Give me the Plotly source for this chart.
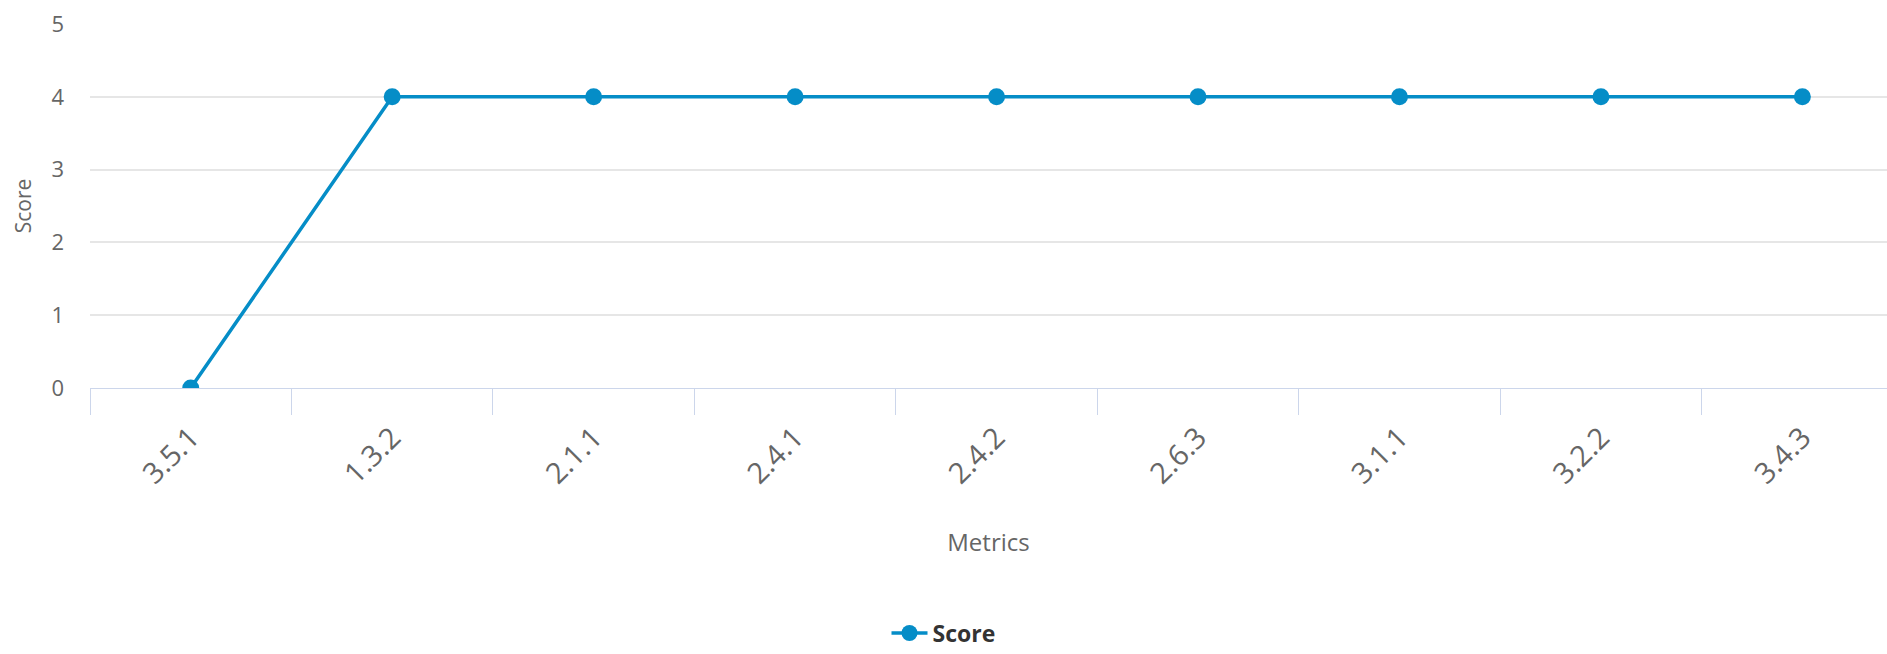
import plotly.graph_objects as go

categories = ["3.5.1", "1.3.2", "2.1.1", "2.4.1", "2.4.2", "2.6.3", "3.1.1", "3.2.2", "3.4.3"]
scores = [0, 4, 4, 4, 4, 4, 4, 4, 4]
y_ticks = [0, 1, 2, 3, 4, 5]

LINE_COLOR = "#058DC7"
FONT = "Open Sans, DejaVu Sans, sans-serif"

fig = go.Figure()
fig.add_trace(go.Scatter(
    x=categories, y=scores, mode="lines+markers", name="Score",
    line=dict(color=LINE_COLOR, width=3.5),
    marker=dict(color=LINE_COLOR, size=17),
))

fig.update_layout(
    width=1887, height=654,
    margin=dict(l=90, r=0, t=24, b=266),
    paper_bgcolor="white", plot_bgcolor="white",
    font=dict(family=FONT, color="#666666"),
    showlegend=True,
    legend=dict(orientation="h", x=0.5, xref="container", xanchor="center",
                y=0.032, yref="container", yanchor="middle",
                font=dict(size=23, color="#333333", family=FONT, weight="bold"),
                itemwidth=36),
    xaxis=dict(
        type="category", range=[-0.5, 8.42],
        tickson="boundaries", ticks="outside", ticklen=26, tickcolor="#ccd6eb", tickwidth=1,
        showgrid=False, showline=True, linecolor="#ccd6eb", linewidth=1,
        tickangle=-45, tickfont=dict(size=29, color="#666666"),
        ticklabelstandoff=20,
        title=dict(text="Metrics", font=dict(size=24, color="#666666"), standoff=44),
        automargin=False, zeroline=False,
    ),
    yaxis=dict(
        range=[0, 5], tickvals=y_ticks, showgrid=True, gridcolor="#e6e6e6", gridwidth=1.5,
        zeroline=False, showline=False, ticks="", tickfont=dict(size=22, color="#666666"),
        ticklabelstandoff=25,
        title=dict(text="Score", font=dict(size=21, color="#666666"), standoff=14),
        automargin=False,
    ),
)

fig.write_html("out.html", config={"displayModeBar": False},
               post_script="document.body.style.margin='0';document.body.style.overflow='hidden';")
